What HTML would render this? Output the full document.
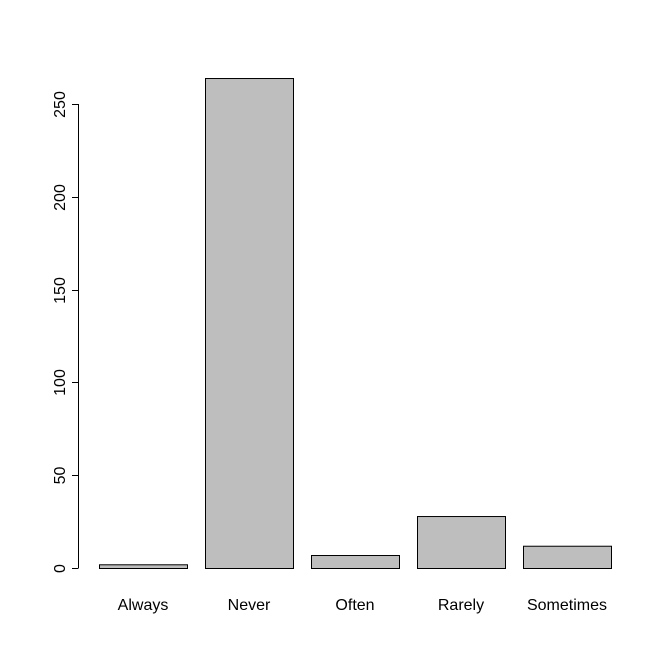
<!DOCTYPE html>
<html><head><meta charset="utf-8"><style>
body{margin:0;background:#fff}
svg{display:block;font-family:"Liberation Sans",Arial,sans-serif}
</style></head><body>
<svg id="chart" width="672" height="671"></svg>
<script>
const categories = ["Always","Never","Often","Rarely","Sometimes"];
const values = [2,264,7,28,12];
const ticks = [0,50,100,150,200,250];
const svg = document.getElementById('chart');
const NS = 'http://www.w3.org/2000/svg';
const y0 = 568, pxPer = 464/250;
function yScale(v){return y0 - v*pxPer;}
function xScale(i){return 99 + i*106;}
const bw = 88;
function mk(tag, attrs, text){const e=document.createElementNS(NS,tag);for(const k in attrs)e.setAttribute(k,attrs[k]);if(text!==undefined)e.textContent=text;svg.appendChild(e);return e;}
categories.forEach((c,i)=>{
  const r = mk('rect',{x:xScale(i)+0.5,y:yScale(values[i])+0.5,width:bw,height:y0-yScale(values[i]),fill:'#bebebe',stroke:'#000','stroke-width':1});
  
  
  const t = mk('text',{x:xScale(i)+bw/2,y:610,'text-anchor':'middle','font-size':16,fill:'#000'},c);
  
  
});
const ax = mk('line',{x1:78.5,x2:78.5,y1:yScale(ticks[0]),y2:yScale(ticks[ticks.length-1]),stroke:'#000'});


ticks.forEach(v=>{
  const y = Math.round(yScale(v))+0.5;
  const l = mk('line',{x1:72,x2:78.5,y1:y,y2:y,stroke:'#000'});
  
  
  const t = mk('text',{x:0,y:0,transform:`translate(65,${y}) rotate(-90)`,'text-anchor':'middle','font-size':16,fill:'#000'},String(v));
  
  
});
</script>
</body></html>
